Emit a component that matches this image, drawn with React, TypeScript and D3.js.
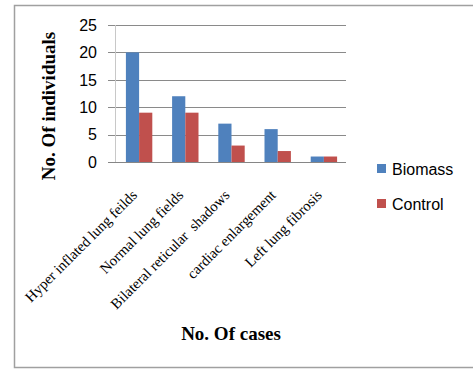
import React from "react";
import * as d3 from "d3";

const categories = [
  "Hyper inflated lung feilds",
  "Normal lung fields",
  "Bilateral reticular  shadows",
  "cardiac enlargement",
  "Left lung fibrosis",
];
const seriesNames = ["Biomass", "Control"];
const biomass = [20, 12, 7, 6, 1];
const control = [9, 9, 3, 2, 1];
const yTicks = [0, 5, 10, 15, 20, 25];
const colors = ["#4F81BD", "#C0504D"];

export default function App() {
  const W = 473, H = 369;
  const x0 = 115.5, x1 = 346;
  const y = d3.scaleLinear().domain([0, 25]).range([162, 25]);
  const p = 0.4286;
  const xb = d3.scaleBand<string>().domain(categories).range([116, 347]).paddingInner(p).paddingOuter(p / 2);
  const xs = d3.scaleBand<string>().domain(seriesNames).range([0, xb.bandwidth()]);
  const series = [biomass, control];
  const serif = "'Liberation Serif', 'Times New Roman', serif";
  const sans = "'Liberation Sans', Arial, sans-serif";
  return (
    <svg width={W} height={H} style={{ position: "absolute", left: 0, top: 0, background: "#fff" }}>
      <rect x={14.5} y={5.5} width={470} height={362} fill="#fff" stroke="#a0a0a0" strokeWidth={1.5} />
      {yTicks.map((t) => (
        <g key={t}>
          <line x1={108} x2={x1} y1={Math.round(y(t)) + 0.5} y2={Math.round(y(t)) + 0.5} stroke="#8a8a8a" strokeWidth={1} />
          <text x={97} y={y(t)} dy="0.36em" textAnchor="end" fontFamily={sans} fontSize={16} fill="#000">{t}</text>
        </g>
      ))}
      <line x1={x0} x2={x0} y1={y(25)} y2={y(0)} stroke="#c8c8c8" strokeWidth={1} />
      {categories.map((c, i) => (
        <g key={c}>
          {series.map((s, j) => (
            <rect key={j} x={(xb(c) as number) + (xs(seriesNames[j]) as number)} y={y(s[i])}
              width={xs.bandwidth()} height={y(0) - y(s[i])} fill={colors[j]} />
          ))}
        </g>
      ))}
      <line x1={108} x2={x1} y1={Math.round(y(0)) + 0.5} y2={Math.round(y(0)) + 0.5} stroke="#868686" strokeWidth={1} />
      {categories.map((c) => {
        const cx = (xb(c) as number) + xb.bandwidth() / 2 - 1;
        return (
          <text key={c} transform={`translate(${cx},196) rotate(-45)`} textAnchor="end"
            fontFamily={serif} fontSize={14.7} fill="#000" style={{ whiteSpace: "pre" }}>{c}</text>
        );
      })}
      <text transform={`translate(55,106) rotate(-90)`} textAnchor="middle" fontFamily={serif}
        fontWeight="bold" fontSize={19} fill="#000">No. Of individuals</text>
      <text x={231} y={340} textAnchor="middle" fontFamily={serif} fontWeight="bold" fontSize={19} fill="#000">No. Of cases</text>
      {seriesNames.map((n, j) => (
        <g key={n} transform={`translate(377,${j === 0 ? 164 : 199})`}>
          <rect x={0} y={0} width={9} height={9} fill={colors[j]} />
          <text x={15} y={11} fontFamily={sans} fontSize={16} fill="#000">{n}</text>
        </g>
      ))}
    </svg>
  );
}
